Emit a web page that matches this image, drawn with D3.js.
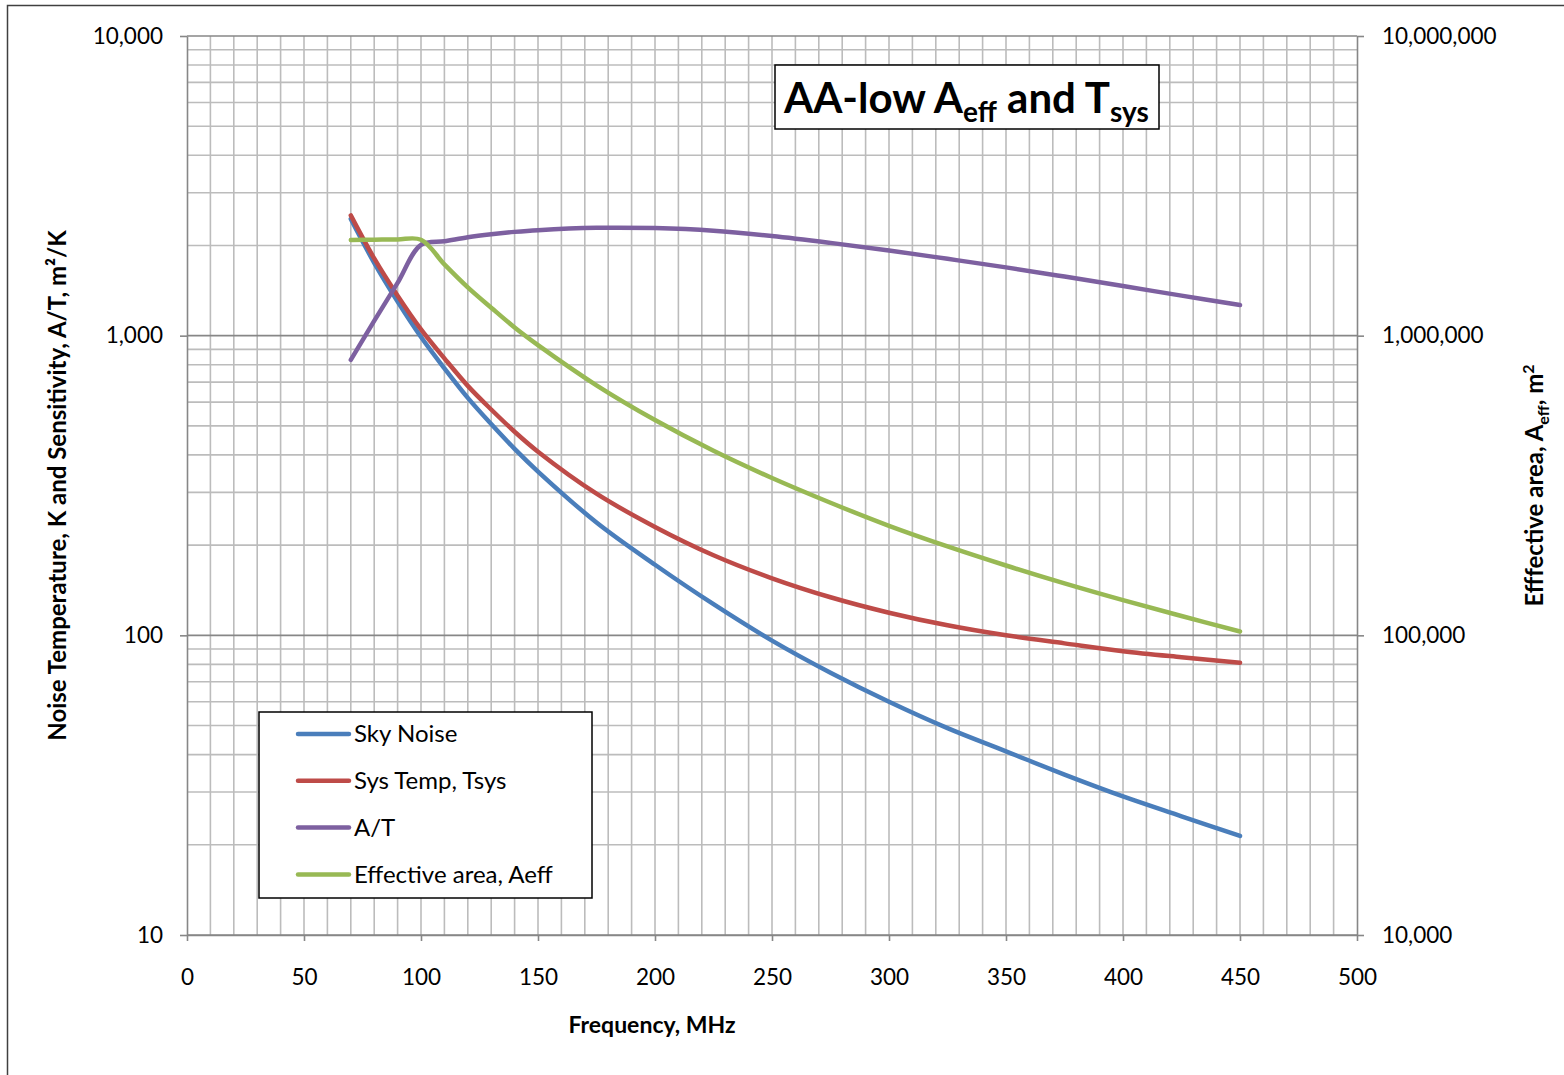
<!DOCTYPE html>
<html>
<head>
<meta charset="utf-8">
<script src="https://cdn.jsdelivr.net/npm/d3@7"></script>
<style>
body{margin:0;background:#fff;}
text{font-family:Lato,"Open Sans",sans-serif;fill:#000;}
</style>
</head>
<body>
<svg id="chart" width="1564" height="1075"></svg>
<script>
// data
var freq      = [70, 80, 90, 100, 110, 120, 130, 140, 150, 175, 200, 225, 250, 275, 300, 325, 350, 375, 400, 425, 450];
var skyNoise  = [2450, 1750, 1300, 990, 778, 620, 507, 419, 352, 238, 172, 127, 96, 75, 60, 49, 41, 34.3, 29, 24.9, 21.4];
var sysTemp   = [2520, 1810, 1360, 1050, 840, 680, 567, 478, 410, 297, 230, 185, 155, 134, 119, 108, 100, 94, 88.5, 84.5, 81];
var aOverT    = [830, 1120, 1500, 2010, 2065, 2130, 2180, 2220, 2250, 2290, 2285, 2240, 2150, 2040, 1925, 1805, 1690, 1575, 1465, 1360, 1265];
var effArea   = [2085000, 2090000, 2095000, 2090000, 1730000, 1450000, 1240000, 1065000, 930000, 683000, 523000, 413000, 335000, 277000, 232000, 198000, 171000, 149000, 131000, 116000, 103000];

var xTicks      = [0, 50, 100, 150, 200, 250, 300, 350, 400, 450, 500];
var yTicksLeft  = [10, 100, 1000, 10000];
var yTicksRight = [10000, 100000, 1000000, 10000000];

var seriesNames  = ["Sky Noise", "Sys Temp, Tsys", "A/T", "Effective area, Aeff"];
var seriesColors = ["#4a7ebb", "#be4b48", "#7d60a0", "#98b954"];

var svg = d3.select("#chart");
var pLeft = 187, pRight = 1357, pTop = 36, pBottom = 935;

var x  = d3.scaleLinear().domain([0, 500]).range([pLeft, pRight]);
var y  = d3.scaleLog().domain([10, 10000]).range([pBottom, pTop]);
var y2 = d3.scaleLog().domain([1e4, 1e7]).range([pBottom, pTop]);

// outer chart border
svg.append("rect")
  .attr("x", 7.5).attr("y", 5.5)
  .attr("width", 1600).attr("height", 1100)
  .attr("fill", "none").attr("stroke", "#404040").attr("stroke-width", 1.5);

// grid
var grid = svg.append("g");
grid.selectAll("line.v")
  .data(d3.range(10, 500, 10))
  .enter().append("line")
    .attr("x1", function(d){ return x(d); })
    .attr("x2", function(d){ return x(d); })
    .attr("y1", pTop).attr("y2", pBottom)
    .attr("stroke", "#bcbcbc").attr("stroke-width", 1.6);

var minorY = [];
[10, 100, 1000].forEach(function(dec){
  for (var k = 2; k <= 9; k++) minorY.push(dec * k);
});
grid.selectAll("line.h")
  .data(minorY)
  .enter().append("line")
    .attr("x1", pLeft).attr("x2", pRight)
    .attr("y1", function(d){ return y(d); })
    .attr("y2", function(d){ return y(d); })
    .attr("stroke", "#bcbcbc").attr("stroke-width", 1.6);
grid.selectAll("line.hm")
  .data(yTicksLeft)
  .enter().append("line")
    .attr("x1", pLeft).attr("x2", pRight)
    .attr("y1", function(d){ return y(d); })
    .attr("y2", function(d){ return y(d); })
    .attr("stroke", "#878787").attr("stroke-width", 1.6);

// axes
function styleAxis(g){
  g.selectAll("path").attr("stroke", "#878787").attr("stroke-width", 1.6);
  g.selectAll("line").attr("stroke", "#878787").attr("stroke-width", 1.6);
  g.selectAll("text").attr("font-size", 22.5).attr("fill", "#000")
    .style("font-family", "Lato, 'Open Sans', sans-serif");
}

svg.append("g")
  .attr("transform", "translate(0," + pBottom + ")")
  .call(d3.axisBottom(x).tickValues(xTicks).tickSize(6).tickSizeOuter(0).tickPadding(28))
  .call(styleAxis);

svg.append("g")
  .attr("transform", "translate(" + pLeft + ",0)")
  .call(d3.axisLeft(y).tickValues(yTicksLeft).tickFormat(d3.format(",")).tickSize(7).tickSizeOuter(0).tickPadding(17))
  .call(styleAxis);

svg.append("g")
  .attr("transform", "translate(" + pRight + ",0)")
  .call(d3.axisRight(y2).tickValues(yTicksRight).tickFormat(d3.format(",")).tickSize(7).tickSizeOuter(0).tickPadding(18))
  .call(styleAxis);

// series
var curve = d3.curveCatmullRom.alpha(0.5);
var lineL = d3.line().x(function(d){ return x(d[0]); }).y(function(d){ return y(d[1]); }).curve(curve);
var lineR = d3.line().x(function(d){ return x(d[0]); }).y(function(d){ return y2(d[1]); }).curve(curve);

var leftSeries = [skyNoise, sysTemp, aOverT];
leftSeries.forEach(function(vals, i){
  svg.append("path")
    .datum(d3.zip(freq, vals))
    .attr("d", lineL)
    .attr("fill", "none")
    .attr("stroke", seriesColors[i])
    .attr("stroke-width", 4.5)
    .attr("stroke-linecap", "round")
    .attr("stroke-linejoin", "round");
});
svg.append("path")
  .datum(d3.zip(freq, effArea))
  .attr("d", lineR)
  .attr("fill", "none")
  .attr("stroke", seriesColors[3])
  .attr("stroke-width", 4.5)
  .attr("stroke-linecap", "round")
  .attr("stroke-linejoin", "round");

// title box
svg.append("rect")
  .attr("x", 775).attr("y", 65).attr("width", 384).attr("height", 64)
  .attr("fill", "#fff").attr("stroke", "#000").attr("stroke-width", 1.5);
var title = svg.append("text")
  .attr("x", 784).attr("y", 113)
  .attr("font-size", 42).attr("font-weight", "bold");
title.append("tspan").text("AA-low A");
title.append("tspan").attr("font-size", 28).attr("dy", 9).text("eff");
title.append("tspan").attr("dy", -9).text(" and T");
title.append("tspan").attr("font-size", 28).attr("dy", 9).text("sys");

// axis titles
svg.append("text")
  .attr("x", 652).attr("y", 1033)
  .attr("text-anchor", "middle")
  .attr("font-size", 23).attr("font-weight", "bold")
  .text("Frequency, MHz");

svg.append("text")
  .attr("transform", "translate(66," + (pTop + pBottom) / 2 + ") rotate(-90)")
  .attr("text-anchor", "middle")
  .attr("font-size", 24).attr("font-weight", "bold")
  .text("Noise Temperature, K and Sensitivity, A/T, m\u00b2/K");

var rt = svg.append("text")
  .attr("transform", "translate(1543," + (pTop + pBottom) / 2 + ") rotate(-90)")
  .attr("text-anchor", "middle")
  .attr("font-size", 24).attr("font-weight", "bold");
rt.append("tspan").text("Efffective area, A");
rt.append("tspan").attr("font-size", 16).attr("dy", 6).text("eff");
rt.append("tspan").attr("dy", -6).text(", m");
rt.append("tspan").attr("font-size", 16).attr("dy", -9).text("2");

// legend
var legend = svg.append("g");
legend.append("rect")
  .attr("x", 259).attr("y", 712).attr("width", 333).attr("height", 186)
  .attr("fill", "#fff").attr("stroke", "#000").attr("stroke-width", 1.5);
var items = legend.selectAll("g.item")
  .data(seriesNames)
  .enter().append("g")
    .attr("transform", function(d, i){ return "translate(0," + (734 + i * 46.8) + ")"; });
items.append("line")
  .attr("x1", 298).attr("x2", 349)
  .attr("stroke", function(d, i){ return seriesColors[i]; })
  .attr("stroke-width", 4.5).attr("stroke-linecap", "round");
items.append("text")
  .attr("x", 354).attr("dy", "0.35em")
  .attr("font-size", 24)
  .text(function(d){ return d; });
</script>
</body>
</html>
